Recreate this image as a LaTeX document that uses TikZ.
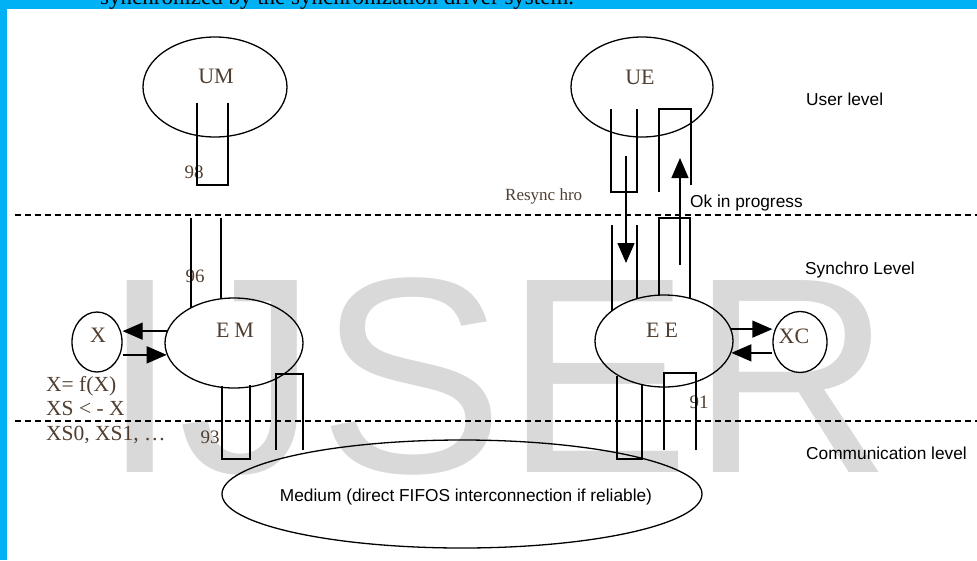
\documentclass[tikz,border=0pt]{standalone}
\usepackage{fontspec}
\setmainfont{Liberation Serif}
\setsansfont{Liberation Sans}
\usetikzlibrary{positioning,arrows.meta,shapes.geometric}
\definecolor{frameblue}{RGB}{0,178,245}
\definecolor{markgray}{RGB}{217,217,217}
\definecolor{labbrown}{RGB}{80,62,48}

\begin{document}
\begin{tikzpicture}[x=1pt, y=-1pt,
  blob/.style={ellipse, draw=black, line width=1.3pt, inner sep=0pt},
  lab/.style={font=\fontsize{22}{24}\selectfont, text=labbrown, inner sep=0pt},
  num/.style={font=\fontsize{19}{21}\selectfont, text=labbrown, inner sep=0pt},
  lvl/.style={font=\sffamily\fontsize{17.3}{20}\selectfont, anchor=west, inner sep=0pt},
  chan/.style={draw=black, line width=1.3pt},
  sep/.style={draw=black, line width=2.6pt, dash pattern=on 6pt off 4pt},
  tip/.style={-{Triangle[length=20pt,width=17pt]}, draw=black, line width=1.3pt}
]
\useasboundingbox (0,0) rectangle (977,560);
\fill[frameblue] (0,0) rectangle (977,9);
\fill[frameblue] (0,0) rectangle (7,560);
\node[anchor=base west, inner sep=0pt, font=\fontsize{23}{25}\selectfont] (caption) at (100,4)
  {synchronized by the synchronization driver system.};
\node[anchor=base west, inner sep=0pt, text=markgray, font=\sffamily\fontsize{279}{279}\selectfont] (wmark) at (101,472) {IJSER};

\draw[sep] (15,215) -- (977,215);
\draw[sep] (15,421) -- (977,421);

\node[blob, minimum width=144, minimum height=100] (um) at (215,87) {};
\node[blob, minimum width=142, minimum height=100] (ue) at (642,87) {};
\node[blob, minimum width=138, minimum height=90] (em) at (234,343) {};
\node[blob, minimum width=138, minimum height=92] (ee) at (664,341) {};
\node[blob, minimum width=50, minimum height=60] (xn) at (97,342) {};
\node[blob, minimum width=54, minimum height=61] (xc) at (800,342) {};
\node[blob, minimum width=480, minimum height=108] (medium) at (462,494) {};

\node[lab] (umlab) at (216,76) {UM};
\node[lab] (uelab) at (640,77) {UE};
\node[lab] (emlab) at (235,330) {E\hspace{5pt}M};
\node[lab] (eelab) at (662,330) {E\hspace{5pt}E};
\node[lab] (xlab) at (98,335) {X};
\node[lab] (xclab) at (794,336) {XC};
\node[lvl, anchor=center] (medlab) at (466,497) {Medium (direct FIFOS interconnection if reliable)};

\node[num] (n98) at (194,172) {98};
\node[num] (n96) at (195,276) {96};
\node[num] (n93) at (210,437) {93};
\node[num] (n91) at (699,402) {91};

\node[lab, anchor=west, font=\fontsize{21.5}{23}\selectfont] (fx) at (46,386) {X= f(X)};
\node[lab, anchor=west, font=\fontsize{21.5}{23}\selectfont] (xs) at (46,408) {XS < - X};
\node[lab, anchor=west, font=\fontsize{21.5}{23}\selectfont] (xsn) at (46,435) {XS0, XS1, \ldots};

\node[anchor=west, inner sep=0pt, text=labbrown, font=\fontsize{17}{19}\selectfont] (resync) at (505,196) {Resync hro};
\node[lvl] (okprog) at (690,203) {Ok in progress};
\node[lvl] (userlvl) at (806,99) {User level};
\node[lvl] (synlvl) at (805,270) {Synchro Level};
\node[lvl] (comlvl) at (806,453) {Communication level};

\draw[chan] (197,103) -- (197,185) -- (228,185) -- (228,103);
\draw[chan] (191,218) -- (191,308);
\draw[chan] (221,218) -- (221,299);
\draw[chan] (222,386) -- (222,459) -- (250,459) -- (250,385);
\draw[chan] (276,450) -- (276,374) -- (303,374) -- (303,450);

\draw[chan] (611,109) -- (611,192) -- (637,192) -- (637,109);
\draw[chan] (659,192) -- (659,109) -- (691,109) -- (691,185);
\draw[chan] (612,225) -- (612,311);
\draw[chan] (637,225) -- (637,299);
\draw[chan] (659,296) -- (659,218) -- (690,218) -- (690,298);
\draw[chan] (617,376) -- (617,459) -- (642,459) -- (642,384);
\draw[chan] (664,450) -- (664,373) -- (696,373) -- (696,450);

\coordinate (rsA) at (626,156);
\coordinate (rsB) at (626,263);
\coordinate (okA) at (680,265);
\coordinate (okB) at (680,158);
\draw[tip] (rsA) -- (rsB);
\draw[tip] (okA) -- (okB);

\draw[tip] (em.170) -- (em.170 -| xn.east);
\draw[tip] (em.190 -| xn.east) -- (em.190);
\draw[tip] (ee.10) -- (ee.10 -| xc.west);
\draw[tip] (ee.-10 -| xc.west) -- (ee.-10);
\end{tikzpicture}
\end{document}
